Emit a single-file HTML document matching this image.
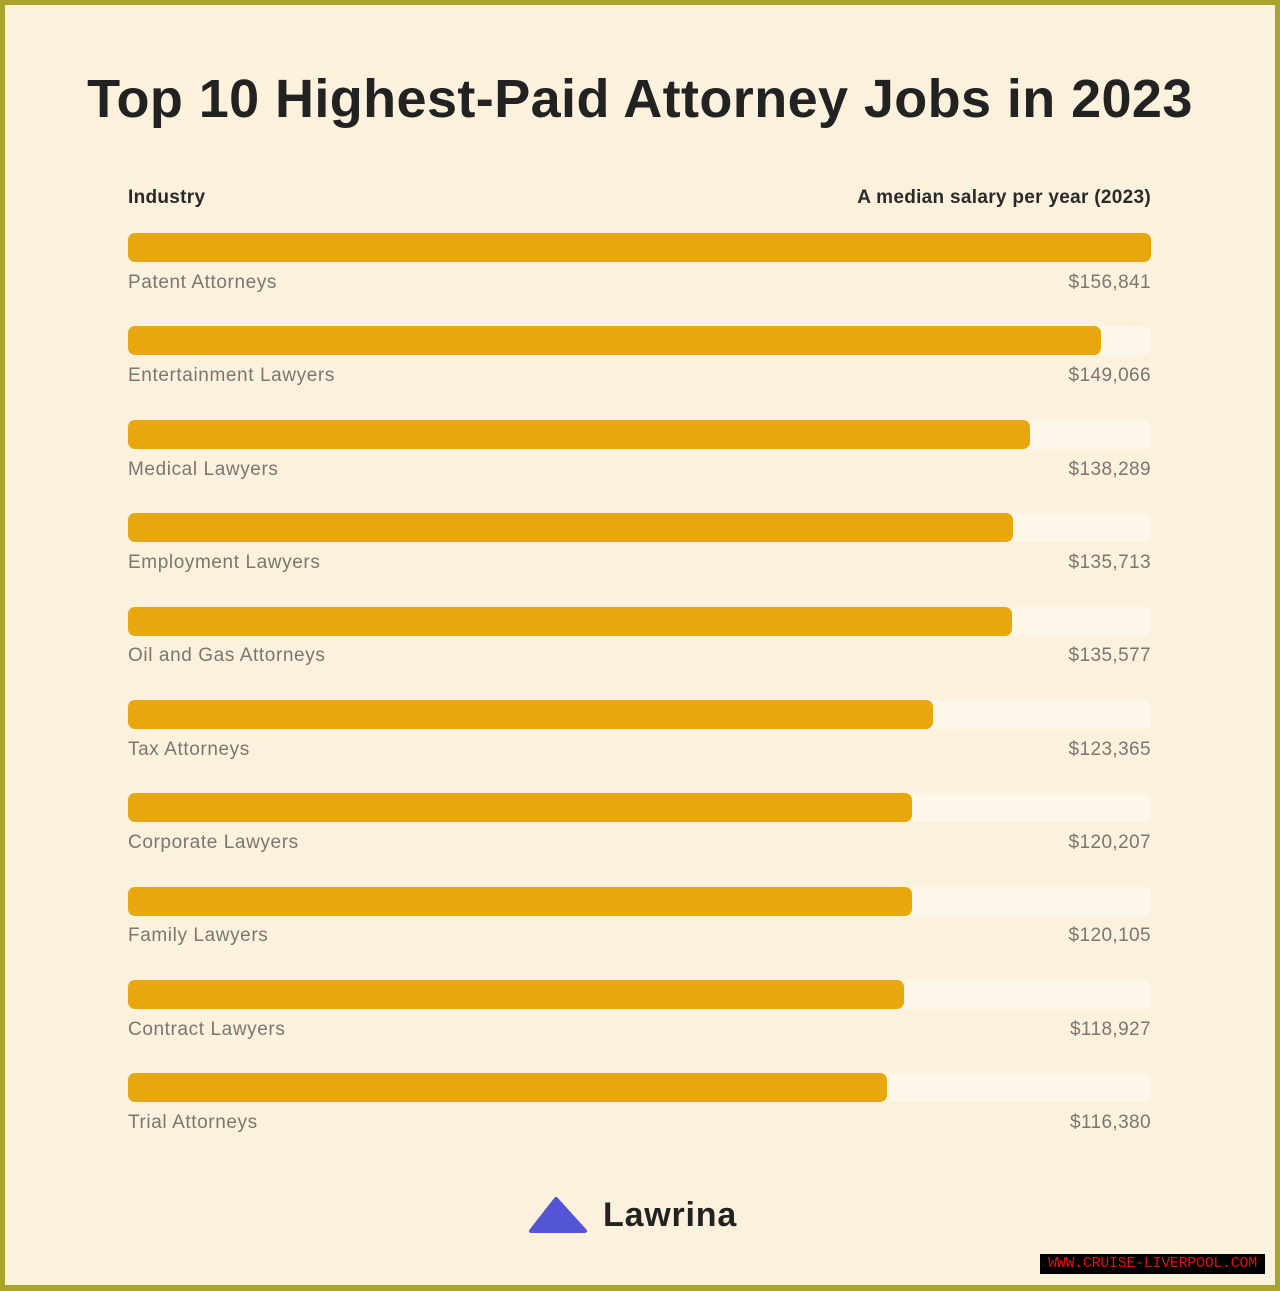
<!DOCTYPE html>
<html><head><meta charset="utf-8"><style>
*{margin:0;padding:0;box-sizing:border-box}
body{width:1280px;height:1291px;background:#a9a52a;position:relative;overflow:hidden;font-family:"Liberation Sans",sans-serif}
.in{position:absolute;left:5px;top:5px;width:1270px;height:1280px;background:#fbf1dd}
h1{position:absolute;left:0;width:1280px;top:68px;text-align:center;font-size:54px;font-weight:bold;color:#222;letter-spacing:0.4px}
.hd{position:absolute;top:187px;font-size:19px;font-weight:bold;color:#2a2a2a;letter-spacing:0.3px}
.track{position:absolute;left:128px;width:1023px;height:29px;border-radius:7px;background:#fdf7ea}
.bar{position:absolute;left:0;top:0;height:29px;border-radius:7px;background:#e8a70f}
.lb{position:absolute;left:128px;font-size:19px;color:#7a7670;letter-spacing:0.6px}
.vl{position:absolute;right:129px;font-size:19px;color:#7a7670;letter-spacing:0.4px}
.wm{position:absolute;left:1040px;top:1254px;width:225px;height:20px;background:#000;color:#e01010;font-family:"Liberation Mono",monospace;font-size:15px;text-align:center;line-height:20px;letter-spacing:-0.3px}
</style></head><body>
<div class="in"></div>
<h1>Top 10 Highest-Paid Attorney Jobs in 2023</h1>
<div class="hd" style="left:128px">Industry</div>
<div class="hd" style="right:129px">A median salary per year (2023)</div>

<div class="track" style="top:233px"><div class="bar" style="width:1023px"></div></div>
<div class="lb" style="top:272px">Patent Attorneys</div><div class="vl" style="top:272px">$156,841</div>
<div class="track" style="top:326px"><div class="bar" style="width:973px"></div></div>
<div class="lb" style="top:365px">Entertainment Lawyers</div><div class="vl" style="top:365px">$149,066</div>
<div class="track" style="top:420px"><div class="bar" style="width:902px"></div></div>
<div class="lb" style="top:459px">Medical Lawyers</div><div class="vl" style="top:459px">$138,289</div>
<div class="track" style="top:513px"><div class="bar" style="width:885px"></div></div>
<div class="lb" style="top:552px">Employment Lawyers</div><div class="vl" style="top:552px">$135,713</div>
<div class="track" style="top:607px"><div class="bar" style="width:884px"></div></div>
<div class="lb" style="top:645px">Oil and Gas Attorneys</div><div class="vl" style="top:645px">$135,577</div>
<div class="track" style="top:700px"><div class="bar" style="width:805px"></div></div>
<div class="lb" style="top:739px">Tax Attorneys</div><div class="vl" style="top:739px">$123,365</div>
<div class="track" style="top:793px"><div class="bar" style="width:784px"></div></div>
<div class="lb" style="top:832px">Corporate Lawyers</div><div class="vl" style="top:832px">$120,207</div>
<div class="track" style="top:887px"><div class="bar" style="width:784px"></div></div>
<div class="lb" style="top:925px">Family Lawyers</div><div class="vl" style="top:925px">$120,105</div>
<div class="track" style="top:980px"><div class="bar" style="width:776px"></div></div>
<div class="lb" style="top:1019px">Contract Lawyers</div><div class="vl" style="top:1019px">$118,927</div>
<div class="track" style="top:1073px"><div class="bar" style="width:759px"></div></div>
<div class="lb" style="top:1112px">Trial Attorneys</div><div class="vl" style="top:1112px">$116,380</div>

<svg style="position:absolute;left:528px;top:1196px" width="60" height="38"><polygon points="3,35 28,3 57,35" fill="#5454d6" stroke="#5454d6" stroke-width="4" stroke-linejoin="round"/></svg>
<div style="position:absolute;left:603px;top:1196px;font-size:34px;color:#222;font-weight:bold;letter-spacing:0.8px">Lawrina</div>
<div class="wm">WWW.CRUISE-LIVERPOOL.COM</div>
</body></html>
